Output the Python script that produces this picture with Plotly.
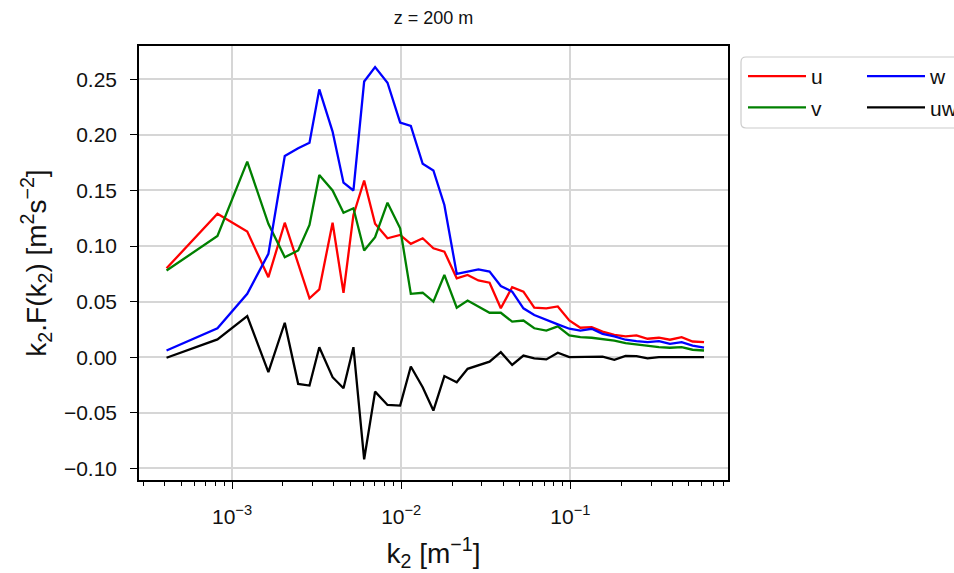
import plotly.graph_objects as go

# wavenumber k2 [1/m]
k2 = [4.1e-4, 8.2e-4, 1.23e-3, 1.64e-3, 2.05e-3, 2.46e-3, 2.87e-3, 3.28e-3,
      3.93e-3, 4.56e-3, 5.22e-3, 6.04e-3, 7.01e-3, 8.30e-3, 9.86e-3, 1.14e-2,
      1.34e-2, 1.55e-2, 1.80e-2, 2.13e-2, 2.47e-2, 2.86e-2, 3.33e-2, 3.88e-2,
      4.53e-2, 5.28e-2, 6.12e-2, 7.21e-2, 8.43e-2, 9.86e-2, 0.1146, 0.1337,
      0.155, 0.182, 0.212, 0.246, 0.286, 0.334, 0.388, 0.455, 0.528, 0.617]

u = [0.080, 0.129, 0.113, 0.072, 0.121, 0.085, 0.053, 0.061, 0.121, 0.058,
     0.128, 0.159, 0.120, 0.107, 0.110, 0.102, 0.107, 0.098, 0.095, 0.071,
     0.074, 0.069, 0.067, 0.044, 0.063, 0.059, 0.0445, 0.044, 0.0457, 0.033,
     0.0265, 0.027, 0.023, 0.020, 0.0187, 0.0196, 0.0166, 0.0175, 0.0157, 0.018,
     0.0141, 0.0135]

v = [0.078, 0.109, 0.176, 0.120, 0.090, 0.096, 0.119, 0.164, 0.150, 0.130,
     0.134, 0.096, 0.108, 0.139, 0.116, 0.057, 0.058, 0.050, 0.074, 0.0445,
     0.051, 0.0457, 0.040, 0.040, 0.032, 0.033, 0.026, 0.024, 0.0277, 0.0196,
     0.018, 0.0175, 0.016, 0.015, 0.0126, 0.0112, 0.0099, 0.009, 0.0085, 0.009,
     0.0067, 0.006]

w = [0.006, 0.026, 0.057, 0.093, 0.181, 0.188, 0.193, 0.241, 0.203, 0.157,
     0.150, 0.248, 0.261, 0.247, 0.211, 0.208, 0.174, 0.168, 0.137, 0.075,
     0.077, 0.079, 0.077, 0.064, 0.059, 0.044, 0.038, 0.034, 0.0295, 0.0256,
     0.024, 0.0256, 0.021, 0.0187, 0.0157, 0.0144, 0.0135, 0.0144, 0.012, 0.0135,
     0.0105, 0.0085]

uw = [-0.0005, 0.016, 0.037, -0.0135, 0.031, -0.024, -0.0255, 0.009, -0.018, -0.028,
      0.009, -0.092, -0.031, -0.043, -0.0435, -0.0084, -0.027, -0.048, -0.017, -0.0225,
      -0.0105, -0.0075, -0.004, 0.0045, -0.007, 0.0015, -0.001, -0.002, 0.004, 0.0,
      0.0, 0.0005, 0.0005, -0.0023, 0.0012, 0.001, -0.001, 0.0, 0.0, 0.0,
      0.0, 0.0]

x_major = [1e-3, 1e-2, 1e-1]
x_major_text = ["10<sup>\u22123</sup>", "10<sup>\u22122</sup>", "10<sup>\u22121</sup>"]
x_minor = [m * d for d in (1e-4, 1e-3, 1e-2, 1e-1) for m in range(2, 10)]
y_ticks = [-0.10, -0.05, 0.00, 0.05, 0.10, 0.15, 0.20, 0.25]
y_text = ["\u22120.10", "\u22120.05", "0.00", "0.05", "0.10", "0.15", "0.20", "0.25"]

FONT = "Liberation Sans, Arial, sans-serif"
TXT = "#111111"
W, H = 954, 573
L, R, T, B = 139, 728, 46, 480


def px_x(p):
    return (p - L) / (R - L)


def px_y(p):
    return (B - p) / (B - T)


fig = go.Figure()
series = [("u", u, "#ff0000", "legend"), ("v", v, "#008000", "legend"),
          ("w", w, "#0000ff", "legend2"), ("uw", uw, "#000000", "legend2")]
for name, ys, col, lg in series:
    fig.add_trace(go.Scatter(x=k2, y=ys, mode="lines", name=name,
                             legend=lg, legendgroup=name,
                             line=dict(color=col, width=2.3)))

leg_common = dict(yanchor="top", xanchor="left", orientation="v",
                  bgcolor="rgba(0,0,0,0)", borderwidth=0,
                  font=dict(size=21, color=TXT),
                  tracegroupgap=1, traceorder="grouped", itemwidth=58)

# legend frame (rounded rectangle) in paper coordinates
x0, x1 = px_x(741), px_x(975)
y0, y1 = px_y(128), px_y(57)
rx, ry = 5 / (R - L), 5 / (B - T)
frame_path = (f"M{x0+rx},{y1} L{x1-rx},{y1} Q{x1},{y1} {x1},{y1-ry} "
              f"L{x1},{y0+ry} Q{x1},{y0} {x1-rx},{y0} L{x0+rx},{y0} "
              f"Q{x0},{y0} {x0},{y0+ry} L{x0},{y1-ry} Q{x0},{y1} {x0+rx},{y1} Z")

fig.update_layout(
    width=W, height=H,
    margin=dict(l=L, r=W - R, t=T, b=H - B, autoexpand=False),
    paper_bgcolor="white", plot_bgcolor="white",
    font=dict(family=FONT, size=21, color=TXT),
    title=dict(text="z = 200 m", x=(L + R) / 2 / W, xanchor="center",
               y=1 - 18 / H, yanchor="middle", font=dict(size=18, color=TXT)),
    showlegend=True,
    legend=dict(x=px_x(743), y=px_y(56), **leg_common),
    legend2=dict(x=px_x(862), y=px_y(56), **leg_common),
    shapes=[dict(type="path", xref="paper", yref="paper", path=frame_path,
                 line=dict(color="#cccccc", width=1.2), fillcolor="white",
                 layer="below")],
)

fig.update_xaxes(
    type="log", range=[-3.55, -0.068],
    tickmode="array", tickvals=x_major, ticktext=x_major_text,
    ticks="outside", ticklen=7, tickwidth=1.3, tickcolor="black",
    ticklabelstandoff=10,
    showgrid=True, gridcolor="#d6d6d6", gridwidth=1.5,
    showline=True, linecolor="black", linewidth=1.5, mirror=True,
    minor=dict(tickmode="array", tickvals=x_minor, ticks="outside", ticklen=4,
               tickwidth=1, tickcolor="black", showgrid=False),
    title=dict(text="k<sub>2</sub> [m<sup>\u22121</sup>]", standoff=16,
               font=dict(size=28, color=TXT)),
    tickfont=dict(size=21, color=TXT),
    zeroline=False,
)
fig.update_yaxes(
    range=[-0.1105, 0.280],
    tickmode="array", tickvals=y_ticks, ticktext=y_text,
    ticks="outside", ticklen=7, tickwidth=1.3, tickcolor="black",
    ticklabelstandoff=9,
    showgrid=True, gridcolor="#d6d6d6", gridwidth=1.5,
    showline=True, linecolor="black", linewidth=1.5, mirror=True,
    title=dict(text="k<sub>2</sub>.F(k<sub>2</sub>) [m<sup>2</sup>s<sup>\u22122</sup>]",
               standoff=9, font=dict(size=28, color=TXT)),
    tickfont=dict(size=21, color=TXT),
    zeroline=False,
)

fig.write_html("out.html")
